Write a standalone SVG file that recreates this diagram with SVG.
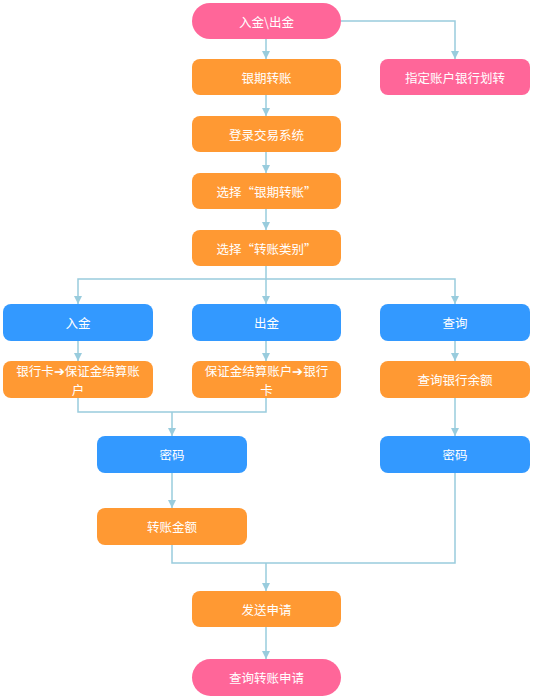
<svg xmlns="http://www.w3.org/2000/svg" width="533" height="699" viewBox="0 0 533 699">
<style>
.pk{fill:#ff6699}
.or{fill:#ff9933}
.bl{fill:#3399ff}
.t{font-family:"Noto Sans CJK SC","Liberation Sans",sans-serif;font-size:12.5px;fill:#ffffff;text-anchor:middle;dominant-baseline:central}
.t2{font-size:12.5px}
.c{fill:none;stroke:#99ccdd;stroke-width:1.5}
</style>
<defs>
<marker id="a" viewBox="0 0 10 10" refX="10" refY="5" markerWidth="8" markerHeight="8" markerUnits="userSpaceOnUse" orient="auto">
<path d="M0,0L10,5L0,10z" fill="#99ccdd"/>
</marker>
</defs>
<g id="connectors">
<path class="c" d="M266,39V59" marker-end="url(#a)"/>
<path class="c" d="M341,21H455V59" marker-end="url(#a)"/>
<path class="c" d="M266,95V116" marker-end="url(#a)"/>
<path class="c" d="M266,152V173" marker-end="url(#a)"/>
<path class="c" d="M266,209V230" marker-end="url(#a)"/>
<path class="c" d="M266,266V304" marker-end="url(#a)"/>
<path class="c" d="M266,279H78V304" marker-end="url(#a)"/>
<path class="c" d="M266,279H455V304" marker-end="url(#a)"/>
<path class="c" d="M78,341V361" marker-end="url(#a)"/>
<path class="c" d="M266,341V361" marker-end="url(#a)"/>
<path class="c" d="M455,341V361" marker-end="url(#a)"/>
<path class="c" d="M78,398V412H266V398"/>
<path class="c" d="M172,412V436" marker-end="url(#a)"/>
<path class="c" d="M455,398V436" marker-end="url(#a)"/>
<path class="c" d="M172,473V508" marker-end="url(#a)"/>
<path class="c" d="M172,545V563H455V473"/>
<path class="c" d="M266,563V591" marker-end="url(#a)"/>
<path class="c" d="M266,627V659" marker-end="url(#a)"/>
</g>
<g id="n1"><rect class="pk" x="192" y="3" width="149" height="36" rx="18"/><text class="t" x="266.5" y="21">入金\出金</text></g>
<g id="n2"><rect class="or" x="192" y="59" width="149" height="36" rx="8"/><text class="t" x="266.5" y="77">银期转账</text></g>
<g id="n3"><rect class="pk" x="380" y="59" width="150" height="36" rx="8"/><text class="t" x="455" y="77">指定账户银行划转</text></g>
<g id="n4"><rect class="or" x="192" y="116" width="149" height="36" rx="8"/><text class="t" x="266.5" y="134">登录交易系统</text></g>
<g id="n5"><rect class="or" x="192" y="173" width="149" height="36" rx="8"/><text class="t" x="266.5" y="191">选择“银期转账”</text></g>
<g id="n6"><rect class="or" x="192" y="230" width="149" height="36" rx="8"/><text class="t" x="266.5" y="248">选择“转账类别”</text></g>
<g id="n7"><rect class="bl" x="3" y="304" width="150" height="37" rx="8"/><text class="t" x="78" y="322.5">入金</text></g>
<g id="n8"><rect class="bl" x="192" y="304" width="149" height="37" rx="8"/><text class="t" x="266.5" y="322.5">出金</text></g>
<g id="n9"><rect class="bl" x="380" y="304" width="150" height="37" rx="8"/><text class="t" x="455" y="322.5">查询</text></g>
<g id="n10"><rect class="or" x="3" y="361" width="150" height="37" rx="8"/><text class="t t2"><tspan x="78" y="370">银行卡➔保证金结算账</tspan><tspan x="78" y="388.5">户</tspan></text></g>
<g id="n11"><rect class="or" x="192" y="361" width="149" height="37" rx="8"/><text class="t t2"><tspan x="266.5" y="370">保证金结算账户➔银行</tspan><tspan x="266.5" y="388.5">卡</tspan></text></g>
<g id="n12"><rect class="or" x="380" y="361" width="150" height="37" rx="8"/><text class="t" x="455" y="379.5">查询银行余额</text></g>
<g id="n13"><rect class="bl" x="97" y="436" width="150" height="37" rx="8"/><text class="t" x="172" y="454.5">密码</text></g>
<g id="n14"><rect class="bl" x="380" y="436" width="150" height="37" rx="8"/><text class="t" x="455" y="454.5">密码</text></g>
<g id="n15"><rect class="or" x="97" y="508" width="150" height="37" rx="8"/><text class="t" x="172" y="526.5">转账金额</text></g>
<g id="n16"><rect class="or" x="192" y="591" width="149" height="36" rx="8"/><text class="t" x="266.5" y="609">发送申请</text></g>
<g id="n17"><rect class="pk" x="192" y="659" width="149" height="37" rx="18.5"/><text class="t" x="266.5" y="677.5">查询转账申请</text></g>
</svg>
